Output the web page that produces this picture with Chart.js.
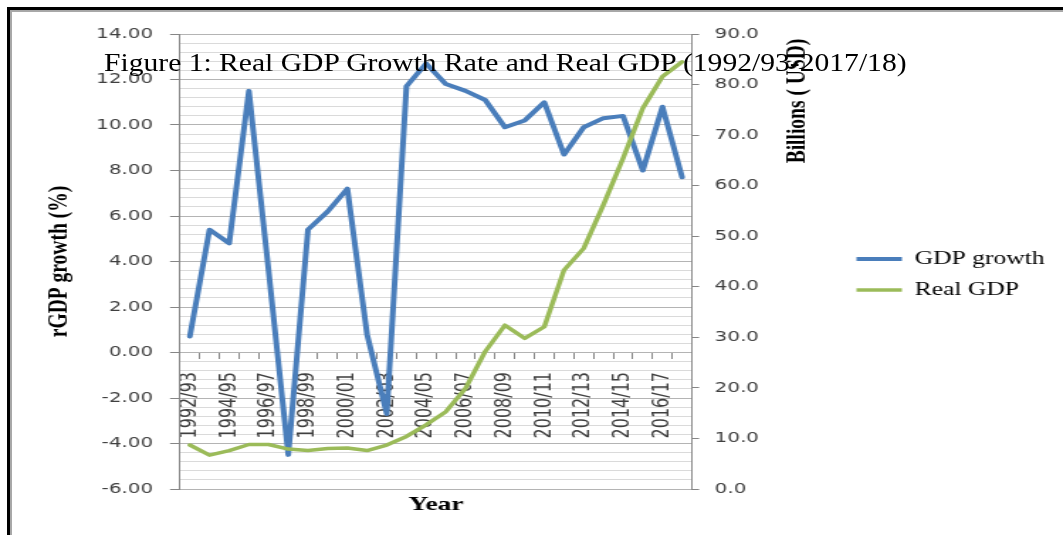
<!DOCTYPE html>
<html>
<head>
<meta charset="utf-8">
<title>Real GDP Growth Rate and Real GDP</title>
<script src="https://cdn.jsdelivr.net/npm/chart.js@4.4.1/dist/chart.umd.min.js"></script>
<style>
  html, body { margin: 0; padding: 0; background: #fff; }
  body { width: 1063px; height: 535px; position: relative; overflow: hidden; }
  #frame {
    position: absolute; left: 7px; top: 7px; width: 1100px; height: 600px;
    border-left: 3px solid #000; border-top: 3px solid #000;
    box-shadow: inset 2px 2px 0 #a8a8a8;
  }
  /* the chart is drawn narrow and widened, like the scanned figure */
  #stage {
    position: absolute; left: 0; top: 0; width: 749px; height: 535px;
    transform: scaleX(1.4192); transform-origin: 0 0;
  }
  #caption {
    position: absolute; left: 104px; top: 48px; line-height: 30px;
    font-family: "Liberation Serif", "Times New Roman", serif; font-size: 25.5px;
    color: #000; white-space: nowrap; transform-origin: 0 0;
  }
</style>
</head>
<body>
<div id="frame"></div>
<div id="stage"><canvas id="chart"></canvas></div>
<div id="caption">Figure 1: Real GDP Growth Rate and Real GDP (1992/93-2017/18)</div>

<script>
// ---- data ----
const years = [
  "1992/93", "1993/94", "1994/95", "1995/96", "1996/97", "1997/98", "1998/99",
  "1999/00", "2000/01", "2001/02", "2002/03", "2003/04", "2004/05", "2005/06",
  "2006/07", "2007/08", "2008/09", "2009/10", "2010/11", "2011/12", "2012/13",
  "2013/14", "2014/15", "2015/16", "2016/17", "2017/18"
];
// real GDP growth rate, %
const gdpGrowth = [
  0.7, 5.4, 4.8, 11.5, 3.6, -4.5, 5.4, 6.2, 7.2, 0.8, -2.7, 11.7, 12.7,
  11.8, 11.5, 11.1, 9.9, 10.2, 11.0, 8.7, 9.9, 10.3, 10.4, 8.0, 10.8, 7.7
];
// real GDP, billions USD
const realGdp = [
  8.7, 6.7, 7.6, 8.8, 8.8, 7.9, 7.6, 8.0, 8.1, 7.6, 8.7, 10.4, 12.7,
  15.3, 19.9, 27.2, 32.4, 29.8, 32.1, 43.3, 47.6, 56.2, 65.4, 75.3, 81.6, 84.5
];

const growthMin = -6, growthMax = 14, growthStep = 0.4;
const gdpMin = 0, gdpMax = 90, gdpStep = 10;

const BLUE = "#4a7ebb";
const GREEN = "#9bbb59";
const TICK_TEXT = "#404040";
const AXIS_LINE = "#868686";
const SERIF = '"Liberation Serif", "Times New Roman", serif';

const PLOT_LEFT = 126.8;   // left edge of the plot area
const PLOT_RIGHT = 487.6;  // right edge of the plot area
const PAD_RIGHT = 3;

Chart.defaults.font.family = '"DejaVu Sans", Verdana, sans-serif';

const isMajor = (v) => Math.abs(v / 2 - Math.round(v / 2)) < 1e-6;

// axis titles that the scale options can't place this way
const axisTitles = {
  id: "axisTitles",
  afterDraw(chart) {
    const { ctx, chartArea } = chart;
    ctx.save();
    ctx.fillStyle = "#000";
    ctx.font = "bold 19.5px " + SERIF;
    ctx.textAlign = "center";
    ctx.textBaseline = "middle";
    ctx.fillText("Year", (chartArea.left + chartArea.right) / 2, chartArea.bottom + 16);
    ctx.translate(chartArea.right + 74, chartArea.top + 67);
    ctx.rotate(-Math.PI / 2);
    ctx.fillText("Billions ( USD)", 0, 0);
    ctx.restore();
  },
};

new Chart(document.getElementById("chart"), {
  type: "line",
  data: {
    labels: years,
    datasets: [
      {
        label: "GDP growth",
        data: gdpGrowth,
        yAxisID: "y",
        borderColor: BLUE,
        backgroundColor: BLUE,
        borderWidth: 4,
        pointBorderWidth: 4,
        pointRadius: 0,
        borderJoinStyle: "round",
        borderCapStyle: "round",
        order: 2,
      },
      {
        label: "Real GDP",
        data: realGdp,
        yAxisID: "y1",
        borderColor: GREEN,
        backgroundColor: GREEN,
        borderWidth: 3.5,
        pointBorderWidth: 3.5,
        pointRadius: 0,
        borderJoinStyle: "round",
        borderCapStyle: "round",
        order: 1,
      },
    ],
  },
  options: {
    responsive: true,
    maintainAspectRatio: false,
    animation: false,
    events: [],
    layout: { padding: { left: 0, top: 34, bottom: 46, right: PAD_RIGHT } },
    plugins: {
      tooltip: { enabled: false },
      legend: {
        position: "right",
        maxWidth: 220,
        title: { display: true, text: "", font: { size: 10 }, padding: 7 },
        labels: {
          usePointStyle: true,
          pointStyle: "line",
          pointStyleWidth: 32,
          padding: 13,
          color: "#000",
          font: { family: SERIF, size: 18 },
          sort: (a, b) => a.datasetIndex - b.datasetIndex,
        },
      },
    },
    scales: {
      x: {
        position: { y: 0 },
        offset: true,
        grid: {
          display: true,
          drawOnChartArea: false,
          offset: true,
          tickLength: 6,
          tickColor: AXIS_LINE,
        },
        border: { display: false },
        ticks: {
          autoSkip: false,
          minRotation: 90,
          maxRotation: 90,
          padding: 13.5,
          color: TICK_TEXT,
          font: { size: 16 },
          callback: function (val, i) {
            return i % 2 === 0 ? this.getLabelForValue(val) : "";
          },
        },
      },
      y: {
        position: "left",
        min: growthMin,
        max: growthMax,
        afterFit: (s) => { s.width = PLOT_LEFT; },
        ticks: {
          stepSize: growthStep,
          autoSkip: false,
          padding: 12,
          color: TICK_TEXT,
          font: { size: 14 },
          callback: (v) => (isMajor(v) ? (Math.round(v * 100) / 100).toFixed(2) : ""),
        },
        grid: {
          color: (c) => (c.tick && isMajor(c.tick.value) ? "#b4b4b4" : "#dadada"),
          tickColor: (c) => (c.tick && isMajor(c.tick.value) ? AXIS_LINE : "rgba(0,0,0,0)"),
          tickLength: 7,
        },
        border: { color: AXIS_LINE },
        title: {
          display: true,
          text: "rGDP growth (%)",
          color: "#000",
          font: { family: SERIF, size: 19.5, weight: "bold", lineHeight: 1.2 },
          padding: { top: 30, bottom: 0 },
        },
      },
      y1: {
        position: "right",
        min: gdpMin,
        max: gdpMax,
        // fill whatever the legend leaves so the plot keeps its right edge
        afterFit: (s) => {
          s.width = s.chart.width - PAD_RIGHT - s.chart.legend.width - PLOT_RIGHT;
        },
        ticks: {
          stepSize: gdpStep,
          padding: 11,
          color: TICK_TEXT,
          font: { size: 14 },
          callback: (v) => v.toFixed(1),
        },
        grid: { drawOnChartArea: false, tickLength: 5, tickColor: AXIS_LINE },
        border: { color: AXIS_LINE },
      },
    },
  },
  plugins: [axisTitles],
});

// widen the caption to the figure's width
const cap = document.getElementById("caption");
cap.style.transform = "scaleX(" + (802 / cap.offsetWidth) + ")";
</script>
</body>
</html>
